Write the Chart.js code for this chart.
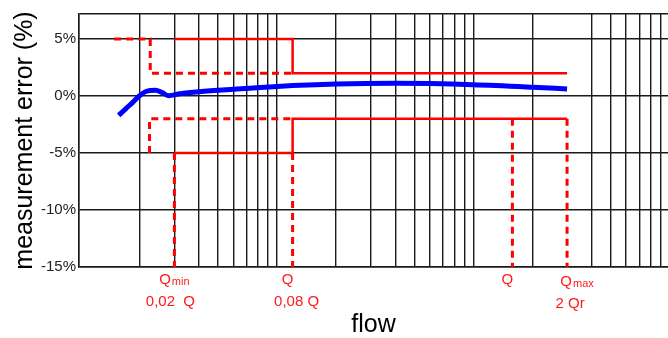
<!DOCTYPE html>
<html>
<head>
<meta charset="utf-8">
<script src="https://cdn.jsdelivr.net/npm/chart.js@4.4.0/dist/chart.umd.min.js"></script>
<style>
  body { margin: 0; background: #fff; }
  #chart { display: block; }
</style>
</head>
<body>
<canvas id="chart" width="668" height="338"></canvas>
<script>
// axis ranges (flow is logarithmic)
const flowMin = 0.49;
const flowMax = 490;
const errorMin = -15;
const errorMax = 7.2;

// vertical grid lines and y ticks
const flowGrid = [1, 1.5, 2, 2.5, 3, 3.5, 4, 4.5, 5, 10, 15, 20, 25, 30, 35, 40, 45, 50, 100, 200, 250, 300, 350, 400, 450];
const errorTicks = [-15, -10, -5, 0, 5];

// measured error curve
const curveFlow  = [0.78, 0.85, 0.92, 1.0, 1.08, 1.2, 1.3, 1.4, 1.6, 2, 3, 5, 10, 20, 50, 100, 150];
const curveError = [-1.7, -1.1, -0.55, 0.05, 0.42, 0.52, 0.3, 0.03, 0.2, 0.38, 0.6, 0.84, 1.05, 1.12, 1.0, 0.78, 0.62];

// permitted error limits
const upperSolidFlow  = [1.5, 6, 6, 150];
const upperSolidError = [5, 5, 2, 2];
const lowerSolidFlow  = [1.5, 6, 6, 150];
const lowerSolidError = [-5, -5, -2, -2];
const upperDashFlow   = [0.74, 1.13, 1.13, 6];
const upperDashError  = [5, 5, 2, 2];
const lowerDashFlow   = [1.12, 1.12, 6];
const lowerDashError  = [-5, -2, -2];

// flow markers
const markerFlow  = [1.5, 6, 79, 150];
const markerTop   = [-5, -5, -2, -2];
const markerName  = ['Q', 'Q', 'Q', 'Q'];
const markerSub   = ['min', '', '', 'max'];
const markerRatio = ['0,02  Q', '0,08 Q', '', '2 Qr'];

const RED = '#ff0000';
const FONT = '"Liberation Sans", Arial, sans-serif';
Chart.defaults.font.family = FONT;

const toPoints = (xs, ys) => xs.map((x, i) => ({ x: x, y: ys[i] }));

const limitLine = (xs, ys, dashed) => ({
    data: toPoints(xs, ys),
    borderColor: RED,
    borderWidth: dashed ? 3 : 2.5,
    borderDash: dashed ? [7, 5] : [],
    pointRadius: 0,
    tension: 0,
    fill: false
});

const datasets = [
    {
        data: toPoints(curveFlow, curveError),
        borderColor: '#0000ff',
        borderWidth: 5,
        pointRadius: 0,
        cubicInterpolationMode: 'monotone',
        fill: false
    },
    limitLine(upperSolidFlow, upperSolidError, false),
    limitLine(lowerSolidFlow, lowerSolidError, false),
    limitLine(upperDashFlow, upperDashError, true),
    limitLine(lowerDashFlow, lowerDashError, true)
];

markerFlow.forEach((f, i) => {
    datasets.push(limitLine([f, f], [markerTop[i], errorMin], true));
});

// label shifts: [dx first row, dx second row, dy]
const labelShift = [[0, -4, 0], [-5, 4, 0], [-5, 0, 0], [10, 3, 2]];

const markerLabels = {
    id: 'markerLabels',
    afterDraw(chart) {
        const { ctx, chartArea, scales } = chart;
        ctx.save();
        ctx.fillStyle = '#ff1a1a';
        ctx.textBaseline = 'alphabetic';
        ctx.textAlign = 'left';
        markerFlow.forEach((f, i) => {
            const px = scales.x.getPixelForValue(f);
            const s = labelShift[i];
            const row1 = chartArea.bottom + 17 + s[2];
            const row2 = chartArea.bottom + 39 + s[2];

            ctx.font = '15px ' + FONT;
            const w1 = ctx.measureText(markerName[i]).width;
            ctx.font = '11px ' + FONT;
            const w2 = markerSub[i] ? ctx.measureText(markerSub[i]).width + 1 : 0;
            let left = px + s[0] - (w1 + w2) / 2;
            ctx.font = '15px ' + FONT;
            ctx.fillText(markerName[i], left, row1);
            if (markerSub[i]) {
                ctx.font = '11px ' + FONT;
                ctx.fillText(markerSub[i], left + w1 + 1, row1 + 1);
            }
            if (markerRatio[i]) {
                ctx.font = '15px ' + FONT;
                const w3 = ctx.measureText(markerRatio[i]).width;
                ctx.fillText(markerRatio[i], px + s[1] - w3 / 2, row2);
            }
        });
        ctx.restore();
    }
};

const ctx = document.getElementById('chart').getContext('2d');
new Chart(ctx, {
    type: 'line',
    data: { datasets: datasets },
    plugins: [markerLabels],
    options: {
        responsive: false,
        animation: false,
        devicePixelRatio: 1,
        layout: { padding: { top: 14, left: 0, right: 0, bottom: 0 } },
        plugins: {
            legend: { display: false },
            tooltip: { enabled: false }
        },
        scales: {
            x: {
                type: 'logarithmic',
                min: flowMin,
                max: flowMax,
                afterBuildTicks: (scale) => {
                    scale.ticks = [flowMin].concat(flowGrid).map(v => ({ value: v }));
                },
                afterFit: (scale) => { scale.height = 71; },
                ticks: { display: false },
                grid: { color: '#1a1a1a', lineWidth: 1.4, drawTicks: false },
                border: { display: true, color: '#1a1a1a', width: 1.5 },
                title: {
                    display: true,
                    text: 'flow',
                    color: '#000',
                    font: { size: 25, lineHeight: 1 },
                    padding: { top: 0, bottom: 0 }
                }
            },
            y: {
                type: 'linear',
                min: errorMin,
                max: errorMax,
                afterBuildTicks: (scale) => {
                    scale.ticks = errorTicks.concat([errorMax]).map(v => ({ value: v }));
                },
                afterFit: (scale) => { scale.width = 79; },
                ticks: {
                    color: '#222',
                    padding: 3,
                    font: { size: 15 },
                    callback: (v) => errorTicks.includes(v) ? v + '%' : ''
                },
                grid: { color: '#1a1a1a', lineWidth: 1.4, drawTicks: false },
                border: { display: true, color: '#1a1a1a', width: 1.5 },
                title: {
                    display: true,
                    text: 'measurement error (%)',
                    color: '#000',
                    font: { size: 25, lineHeight: 1 },
                    padding: { top: 12.2, bottom: 0 }
                }
            }
        }
    }
});
</script>
</body>
</html>
